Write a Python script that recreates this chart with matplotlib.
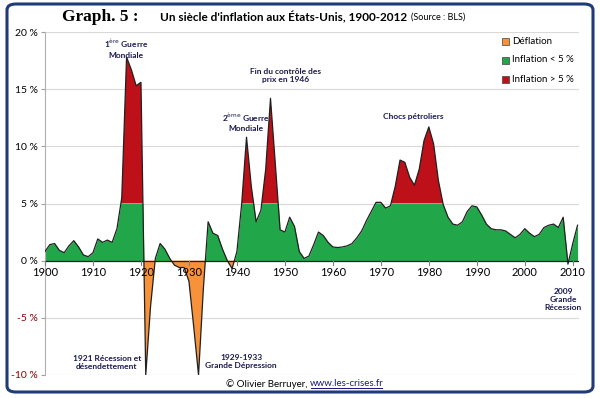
import numpy as np
import matplotlib
matplotlib.use("Agg")
import matplotlib.pyplot as plt
from matplotlib.patches import FancyBboxPatch, Rectangle

# US inflation (%)
years = np.arange(1900, 2012)
infl = [0.8, 1.4, 1.5, 0.9, 0.7, 1.3, 1.75, 1.2, 0.5, 0.35,
        0.7, 1.9, 1.6, 1.8, 1.6, 2.8, 5.5, 17.8, 16.7, 15.3,
        15.6, -10.0, -4.0, 0.2, 1.5, 1.0, 0.2, -0.4, -0.6, -0.6,
        -1.8, -5.8, -10.0, -2.5, 3.4, 2.4, 2.2, 1.0, 0.0, -0.7,
        0.8, 5.0, 10.8, 6.5, 3.4, 4.4, 8.0, 14.2, 8.5, 2.7,
        2.5, 3.8, 3.0, 0.8, 0.2, 0.4, 1.4, 2.5, 2.2, 1.6,
        1.2, 1.15, 1.2, 1.3, 1.5, 2.0, 2.6, 3.5, 4.3, 5.1,
        5.1, 4.6, 4.8, 6.5, 8.8, 8.6, 7.3, 6.6, 8.0, 10.5,
        11.7, 10.2, 7.0, 4.9, 3.8, 3.2, 3.1, 3.4, 4.3, 4.8,
        4.7, 4.0, 3.2, 2.8, 2.7, 2.7, 2.6, 2.3, 2.0, 2.3,
        2.8, 2.4, 2.1, 2.3, 2.9, 3.1, 3.2, 2.9, 3.8, -0.3,
        1.5, 3.1]
yticks = [-10, -5, 0, 5, 10, 15, 20]
ytick_labels = ["-10 %", "-5 %", "0 %", "5 %", "10 %", "15 %", "20 %"]
xticks = np.arange(1900, 2011, 10)
legend_labels = ["Déflation", "Inflation < 5 %", "Inflation > 5 %"]

green = "#22a64a"
red = "#bd1018"
orange = "#f7913a"
navy = "#1a1a50"

fig = plt.figure(figsize=(6, 3.98), dpi=100)
ax = fig.add_axes([45 / 600, 1 - 375 / 398, (579 - 45) / 600, (375 - 32) / 398])

xf = np.linspace(years[0], years[-1], 6000)
vf = np.interp(xf, years, infl)
ax.fill_between(xf, 0, np.clip(vf, 0, 5), color=green, lw=0, zorder=2)
ax.fill_between(xf, 5, np.maximum(vf, 5), where=vf > 5, color=red, lw=0, zorder=2)
ax.fill_between(xf, 0, np.minimum(vf, 0), where=vf < 0, color=orange, lw=0, zorder=2)
ax.plot(years, infl, color="#202020", lw=0.9, zorder=3)
ax.axhline(0, color="#202020", lw=0.9, zorder=3)

ax.set_xlim(1900, 2011.3)
ax.set_ylim(-10, 20)
ax.set_yticks(yticks)
ax.set_yticklabels(ytick_labels, fontsize=7.5, family="Lato")
for lab, v in zip(ax.get_yticklabels(), yticks):
    lab.set_color("#8b0000" if v < 0 else "black")
ax.yaxis.grid(True, color="#d9d9d9", lw=0.8, zorder=0)
ax.tick_params(axis="y", length=3, color="#a0a0a0", pad=2)
for s in ["top", "right", "bottom"]:
    ax.spines[s].set_visible(False)
ax.spines["left"].set_color("#b0b0b0")

# years are written just under the 0 % line
ax.set_xticks([])
for x in xticks:
    ax.plot([x, x], [0, -0.35], color="#808080", lw=0.8, zorder=3, clip_on=False)
    ax.text(x, -0.55, str(x), ha="center", va="top", fontsize=8, family="Lato")

# annotations
ann = dict(ha="center", va="center", fontsize=6, color=navy, family="Lato", fontweight="bold")
ax.text(1916.9, 18.6, r"1$^{\mathrm{ère}}$ Guerre" + "\nMondiale", **ann)
ax.text(1941.8, 12.2, r"2$^{\mathrm{ème}}$ Guerre" + "\nMondiale", **ann)
ax.text(1950.1, 16.2, "Fin du contrôle des\nprix en 1946", **ann)
ax.text(1976.7, 12.6, "Chocs pétroliers", **ann)
ax.text(1912.9, -8.9, "1921 Récession et\ndésendettement", **ann)
ax.text(1940.9, -8.8, "1929-1933\nGrande Dépression", **ann)
ax.text(2008.0, -3.4, "2009\nGrande\nRécession", **ann)

# legend
cols = [orange, green, red]
for i, (lab, c) in enumerate(zip(legend_labels, cols)):
    y = 1 - (41 + 19 * i) / 398
    fig.patches.append(Rectangle((502 / 600, y - 0.011), 7 / 600, 7 / 398, transform=fig.transFigure,
                                 facecolor=c, edgecolor="#404040", lw=0.5))
    fig.text(512 / 600, y, lab, fontsize=7, va="center", family="Lato")

# title, pieces placed one after the other
ty = 1 - 17 / 398
t1 = fig.text(62 / 600, ty, "Graph. 5 :", fontsize=12.5, fontweight="bold",
              family="Liberation Serif", va="center")
t2 = fig.text(160 / 600, ty, "Un siècle d'inflation aux États-Unis, 1900-2012", fontsize=8.5,
              fontweight="bold", family="Lato", va="center")
fig.canvas.draw()
r = fig.canvas.get_renderer()
x3 = (t2.get_window_extent(r).x1 + 4) / 600
fig.text(x3, 1 - 17.5 / 398, "(Source : BLS)", fontsize=6.5, family="Lato", va="center")

# credit line
fig.text(310 / 600, 1 - 384 / 398, "© Olivier Berruyer, ", fontsize=7, family="Lato", va="center", ha="right")
fig.text(310 / 600, 1 - 384 / 398, "www.les-crises.fr", fontsize=7, family="Lato", va="center",
         color="#1a1a80")
fig.patches.append(Rectangle((311 / 600, 1 - 389 / 398), 72 / 600, 0.6 / 398, transform=fig.transFigure,
                             facecolor="#1a1a80", lw=0))

# rounded frame
fig.patches.append(FancyBboxPatch((7 / 600, 6 / 398), 586 / 600, 388 / 398, transform=fig.transFigure,
                                  boxstyle="round,pad=0,rounding_size=0.015", facecolor="none",
                                  edgecolor="#1f3c78", lw=2.2))

fig.savefig("out.png", dpi=100)
